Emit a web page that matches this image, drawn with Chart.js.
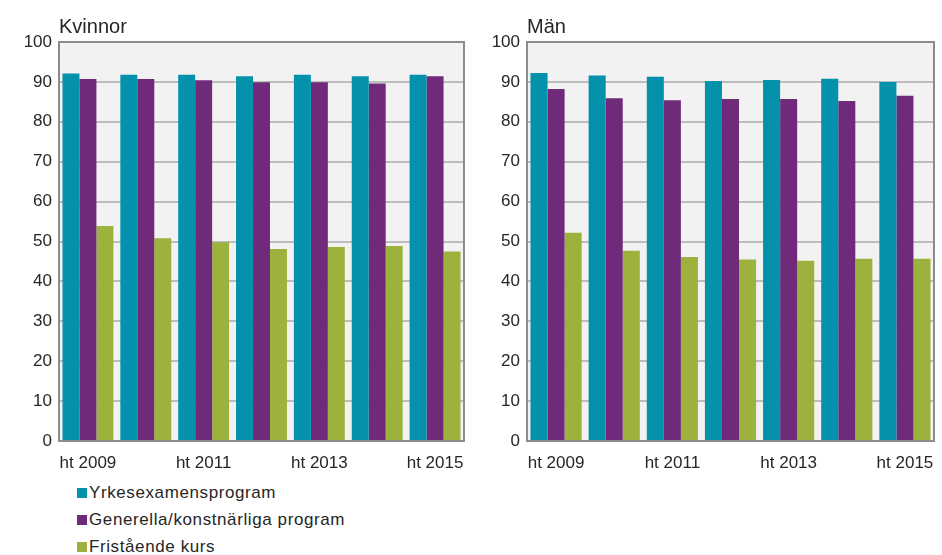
<html lang="sv">
<head>
    <meta charset="UTF-8">
    <title>Kvinnor och män</title>
    <script src="https://cdn.jsdelivr.net/npm/chart.js"></script>
    <style>
        body { margin: 0; background: #fff; font-family: "Liberation Sans", Arial, sans-serif; }
        #wrap { position: relative; width: 942px; height: 555px; }
        #leftBox { position: absolute; left: 0; top: 0; width: 470px; height: 475px; }
        #rightBox { position: absolute; left: 470px; top: 0; width: 472px; height: 475px; }
        #legend { position: absolute; left: 77px; top: 479px; font-size: 17px; letter-spacing: 0.6px; color: #262626; }
        .item { height: 27px; line-height: 27px; white-space: nowrap; }
        .box { display: inline-block; width: 10px; height: 10px; margin-right: 2px; vertical-align: 0px; }
    </style>
</head>
<body>
<div id="wrap">
    <div id="leftBox"><canvas id="leftChart"></canvas></div>
    <div id="rightBox"><canvas id="rightChart"></canvas></div>
    <div id="legend"></div>
</div>
<script>
    const terms = ['ht 2009', 'ht 2010', 'ht 2011', 'ht 2012', 'ht 2013', 'ht 2014', 'ht 2015'];
    const seriesNames = ['Yrkesexamensprogram', 'Generella/konstnärliga program', 'Fristående kurs'];
    const seriesColors = ['#0391ac', '#6f2a7a', '#9cb23d'];

    const womenYrkes = [92.1, 91.8, 91.8, 91.4, 91.8, 91.4, 91.8];
    const womenGenerella = [90.7, 90.7, 90.4, 89.9, 89.9, 89.6, 91.4];
    const womenKurs = [53.9, 50.8, 49.8, 48.1, 48.6, 48.9, 47.5];

    const menYrkes = [92.2, 91.6, 91.3, 90.2, 90.5, 90.8, 90.0];
    const menGenerella = [88.2, 85.9, 85.4, 85.7, 85.7, 85.2, 86.5];
    const menKurs = [52.2, 47.7, 46.1, 45.5, 45.2, 45.7, 45.7];

    const textColor = '#262626';
    const fontFamily = '"Liberation Sans", Arial, sans-serif';

    // grey plot background + dark frame around the plot area
    const plotFrame = {
        id: 'plotFrame',
        beforeDraw(chart) {
            const a = chart.chartArea, ctx = chart.ctx;
            ctx.save();
            ctx.fillStyle = '#f2f2f2';
            ctx.fillRect(a.left, a.top, a.right - a.left, a.bottom - a.top);
            ctx.restore();
        },
        afterDatasetsDraw(chart) {
            const a = chart.chartArea, ctx = chart.ctx;
            ctx.save();
            ctx.strokeStyle = '#8c8c8c';
            ctx.lineWidth = 2;
            ctx.strokeRect(a.left, a.top, a.right - a.left, a.bottom - a.top);
            ctx.restore();
        }
    };

    function makeChart(id, title, values, yWidth, rightPad) {
        const ctx = document.getElementById(id).getContext('2d');
        return new Chart(ctx, {
            type: 'bar',
            data: {
                labels: terms,
                datasets: values.map((v, i) => ({
                    label: seriesNames[i],
                    data: v,
                    backgroundColor: seriesColors[i],
                    borderWidth: 0,
                    barPercentage: 1,
                    categoryPercentage: 0.88
                }))
            },
            options: {
                responsive: true,
                maintainAspectRatio: false,
                animation: false,
                layout: { padding: { left: 0, right: rightPad, top: 0, bottom: 0 } },
                plugins: {
                    legend: { display: false },
                    tooltip: { enabled: false },
                    title: {
                        display: true,
                        text: title,
                        align: 'start',
                        fullSize: false,
                        color: textColor,
                        font: { family: fontFamily, size: 20, weight: 'normal' },
                        padding: { top: 15, bottom: 3 }
                    }
                },
                scales: {
                    x: {
                        grid: { display: false, drawTicks: false },
                        border: { display: false },
                        afterFit: function(scale) {
                            scale.height = 34;
                            scale.paddingLeft = 0;
                            scale.paddingRight = 0;
                        },
                        ticks: {
                            autoSkip: false,
                            maxRotation: 0,
                            padding: 12,
                            color: textColor,
                            font: { family: fontFamily, size: 17 },
                            callback: function(val, index) {
                                return index % 2 === 0 ? this.getLabelForValue(val) : '';
                            }
                        }
                    },
                    y: {
                        min: 0,
                        max: 100,
                        afterFit: function(scale) { scale.width = yWidth; },
                        grid: { color: '#bdbdbd', lineWidth: 2, drawTicks: false },
                        border: { display: false },
                        ticks: {
                            stepSize: 10,
                            padding: 7,
                            color: textColor,
                            font: { family: fontFamily, size: 17 }
                        }
                    }
                }
            },
            plugins: [plotFrame]
        });
    }

    makeChart('leftChart', 'Kvinnor', [womenYrkes, womenGenerella, womenKurs], 59, 6);
    makeChart('rightChart', 'Män', [menYrkes, menGenerella, menKurs], 57, 8);

    const legend = document.getElementById('legend');
    seriesNames.forEach((name, i) => {
        const row = document.createElement('div');
        row.className = 'item';
        const box = document.createElement('span');
        box.className = 'box';
        box.style.background = seriesColors[i];
        row.appendChild(box);
        row.appendChild(document.createTextNode(name));
        legend.appendChild(row);
    });
</script>
</body>
</html>
